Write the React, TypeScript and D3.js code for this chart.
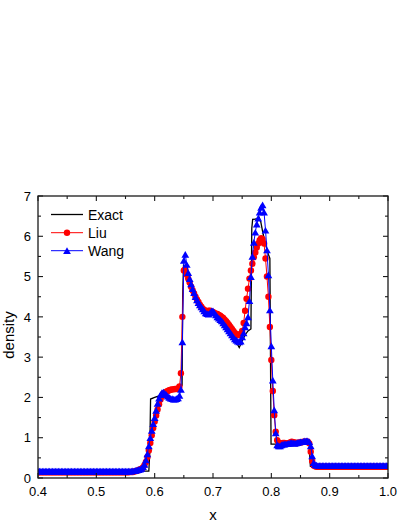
import React from "react";
import * as d3 from "d3";

const xTicks = [0.4, 0.5, 0.6, 0.7, 0.8, 0.9, 1.0];
const xTickLabels = ["0.4", "0.5", "0.6", "0.7", "0.8", "0.9", "1.0"];
const xMinor = [0.45, 0.55, 0.65, 0.75, 0.85, 0.95];
const yTicks = [0, 1, 2, 3, 4, 5, 6, 7];
const yMinor = [0.5, 1.5, 2.5, 3.5, 4.5, 5.5, 6.5];

const seriesNames = ["Exact", "Liu", "Wang"];

const exactPts: [number, number][] = [
  [0.4, 0.17], [0.59, 0.17], [0.5915, 0.6], [0.593, 1.96], [0.6, 2.0], [0.61, 2.05], [0.62, 2.1],
  [0.63, 2.15], [0.64, 2.2], [0.647, 2.3], [0.648, 4.5], [0.6495, 5.3], [0.652, 5.22], [0.66, 4.9],
  [0.67, 4.55], [0.68, 4.28], [0.69, 4.13], [0.7, 4.1], [0.71, 4.05], [0.72, 3.9], [0.73, 3.68],
  [0.738, 3.42], [0.745, 3.24], [0.75, 3.4], [0.755, 3.55], [0.76, 3.65], [0.765, 3.7],
  [0.7665, 6.2], [0.768, 6.42], [0.775, 6.43], [0.779, 6.47], [0.782, 6.35], [0.786, 6.05],
  [0.79, 5.8], [0.795, 5.55], [0.7975, 5.45], [0.799, 2.0], [0.7995, 0.84], [0.81, 0.84],
  [0.82, 0.85], [0.83, 0.86], [0.84, 0.87], [0.85, 0.87], [0.86, 0.87], [0.8655, 0.87],
  [0.866, 0.5], [0.867, 0.29], [0.88, 0.29], [0.9, 0.29], [1.0, 0.29],
];

// shared sample positions of the two numerical solutions (rows of 10)
const gridX = [
  0.4, 0.4025, 0.405, 0.4075, 0.41, 0.4125, 0.415, 0.4175, 0.42, 0.4225,
  0.425, 0.4275, 0.43, 0.4325, 0.435, 0.4375, 0.44, 0.4425, 0.445, 0.4475,
  0.45, 0.4525, 0.455, 0.4575, 0.46, 0.4625, 0.465, 0.4675, 0.47, 0.4725,
  0.475, 0.4775, 0.48, 0.4825, 0.485, 0.4875, 0.49, 0.4925, 0.495, 0.4975,
  0.5, 0.5025, 0.505, 0.5075, 0.51, 0.5125, 0.515, 0.5175, 0.52, 0.5225,
  0.525, 0.5275, 0.53, 0.5325, 0.535, 0.5375, 0.54, 0.5425, 0.545, 0.5475,
  0.55, 0.5525, 0.555, 0.5575, 0.56, 0.5625, 0.565, 0.5675, 0.57, 0.5725,
  0.575, 0.5775, 0.58, 0.5825, 0.585, 0.5875, 0.59, 0.5925, 0.595, 0.5975,
  0.6, 0.6025, 0.605, 0.6075, 0.61, 0.6125, 0.615, 0.6175, 0.62, 0.6225,
  0.625, 0.6275, 0.63, 0.6325, 0.635, 0.6375, 0.64, 0.6425, 0.645, 0.6475,
  0.65, 0.6525, 0.655, 0.6575, 0.66, 0.6625, 0.665, 0.6675, 0.67, 0.6725,
  0.675, 0.6775, 0.68, 0.6825, 0.685, 0.6875, 0.69, 0.6925, 0.695, 0.6975,
  0.7, 0.7025, 0.705, 0.7075, 0.71, 0.7125, 0.715, 0.7175, 0.72, 0.7225,
  0.725, 0.7275, 0.73, 0.7325, 0.735, 0.7375, 0.74, 0.7425, 0.745, 0.7475,
  0.75, 0.7525, 0.755, 0.7575, 0.76, 0.7625, 0.765, 0.7675, 0.77, 0.7725,
  0.775, 0.7775, 0.78, 0.7825, 0.785, 0.7875, 0.79, 0.7925, 0.795, 0.7975,
  0.8, 0.8025, 0.805, 0.8075, 0.81, 0.8125, 0.815, 0.8175, 0.82, 0.8225,
  0.825, 0.8275, 0.83, 0.8325, 0.835, 0.8375, 0.84, 0.8425, 0.845, 0.8475,
  0.85, 0.8525, 0.855, 0.8575, 0.86, 0.8625, 0.865, 0.8675, 0.87, 0.8725,
  0.875, 0.8775, 0.88, 0.8825, 0.885, 0.8875, 0.89, 0.8925, 0.895, 0.8975,
  0.9, 0.9025, 0.905, 0.9075, 0.91, 0.9125, 0.915, 0.9175, 0.92, 0.9225,
  0.925, 0.9275, 0.93, 0.9325, 0.935, 0.9375, 0.94, 0.9425, 0.945, 0.9475,
  0.95, 0.9525, 0.955, 0.9575, 0.96, 0.9625, 0.965, 0.9675, 0.97, 0.9725,
  0.975, 0.9775, 0.98, 0.9825, 0.985, 0.9875, 0.99, 0.9925, 0.995, 0.9975,
  1.0,
];

const liuY = [
  0.14, 0.14, 0.14, 0.14, 0.14, 0.14, 0.14, 0.14, 0.14, 0.14,
  0.14, 0.14, 0.14, 0.14, 0.14, 0.14, 0.14, 0.14, 0.14, 0.14,
  0.14, 0.14, 0.14, 0.14, 0.14, 0.14, 0.14, 0.14, 0.14, 0.14,
  0.14, 0.14, 0.14, 0.14, 0.14, 0.14, 0.14, 0.14, 0.14, 0.14,
  0.14, 0.14, 0.14, 0.14, 0.14, 0.14, 0.14, 0.14, 0.14, 0.14,
  0.14, 0.14, 0.14, 0.14, 0.14, 0.14, 0.14, 0.14, 0.14, 0.14,
  0.14, 0.14, 0.14, 0.15, 0.15, 0.15, 0.16, 0.17, 0.18, 0.2,
  0.21, 0.23, 0.26, 0.32, 0.4, 0.52, 0.68, 0.87, 1.06, 1.24,
  1.4, 1.55, 1.7, 1.83, 1.95, 2.03, 2.09, 2.12, 2.14, 2.16,
  2.18, 2.19, 2.2, 2.2, 2.21, 2.21, 2.22, 2.27, 2.6, 4.0,
  5.15, 5.18, 5.05, 4.95, 4.85, 4.75, 4.66, 4.58, 4.5, 4.43,
  4.37, 4.3, 4.25, 4.2, 4.17, 4.15, 4.14, 4.15, 4.15, 4.13,
  4.12, 4.1, 4.08, 4.07, 4.05, 4.03, 4.0, 3.97, 3.93, 3.89,
  3.85, 3.8, 3.75, 3.7, 3.65, 3.6, 3.57, 3.55, 3.55, 3.58,
  3.65, 3.85, 4.15, 4.45, 4.7, 4.95, 5.15, 5.32, 5.48, 5.6,
  5.72, 5.82, 5.9, 5.95, 5.93, 5.82, 5.45, 5.0, 4.5, 3.75,
  2.93, 2.16, 1.56, 1.15, 0.94, 0.88, 0.86, 0.86, 0.87, 0.87,
  0.86, 0.86, 0.87, 0.88, 0.9, 0.89, 0.88, 0.87, 0.87, 0.88,
  0.88, 0.89, 0.9, 0.9, 0.9, 0.9, 0.86, 0.65, 0.42, 0.31,
  0.29, 0.28, 0.28, 0.28, 0.28, 0.28, 0.28, 0.28, 0.28, 0.28,
  0.28, 0.28, 0.28, 0.28, 0.28, 0.28, 0.28, 0.28, 0.28, 0.28,
  0.28, 0.28, 0.28, 0.28, 0.28, 0.28, 0.28, 0.28, 0.28, 0.28,
  0.28, 0.28, 0.28, 0.28, 0.28, 0.28, 0.28, 0.28, 0.28, 0.28,
  0.28, 0.28, 0.28, 0.28, 0.28, 0.28, 0.28, 0.28, 0.28, 0.28,
  0.28,
];

const wangY = [
  0.17, 0.17, 0.17, 0.17, 0.17, 0.17, 0.17, 0.17, 0.17, 0.17,
  0.17, 0.17, 0.17, 0.17, 0.17, 0.17, 0.17, 0.17, 0.17, 0.17,
  0.17, 0.17, 0.17, 0.17, 0.17, 0.17, 0.17, 0.17, 0.17, 0.17,
  0.17, 0.17, 0.17, 0.17, 0.17, 0.17, 0.17, 0.17, 0.17, 0.17,
  0.17, 0.17, 0.17, 0.17, 0.17, 0.17, 0.17, 0.17, 0.17, 0.17,
  0.17, 0.17, 0.17, 0.17, 0.17, 0.17, 0.17, 0.17, 0.17, 0.17,
  0.17, 0.17, 0.17, 0.17, 0.17, 0.18, 0.18, 0.19, 0.2, 0.21,
  0.22, 0.24, 0.28, 0.34, 0.45, 0.6, 0.8, 1.0, 1.18, 1.35,
  1.5, 1.68, 1.85, 1.98, 2.07, 2.12, 2.13, 2.1, 2.07, 2.03,
  2.0, 1.98, 1.97, 1.96, 1.96, 1.97, 1.99, 2.05, 2.2, 3.38,
  5.4, 5.55, 5.3, 5.1, 4.95, 4.82, 4.7, 4.6, 4.5, 4.42,
  4.35, 4.3, 4.25, 4.2, 4.15, 4.1, 4.08, 4.07, 4.1, 4.15,
  4.15, 4.1, 4.05, 4.0, 3.97, 3.93, 3.9, 3.85, 3.8, 3.75,
  3.7, 3.65, 3.6, 3.55, 3.5, 3.45, 3.42, 3.4, 3.38, 3.4,
  3.5, 3.6, 3.75, 3.85, 4.0, 4.4, 5.0, 5.5, 5.85, 6.1,
  6.3, 6.45, 6.6, 6.72, 6.78, 6.6, 6.15, 5.66, 5.04, 4.17,
  3.28, 2.43, 1.69, 1.12, 0.82, 0.8, 0.8, 0.82, 0.84, 0.84,
  0.85, 0.85, 0.86, 0.87, 0.88, 0.87, 0.86, 0.87, 0.88, 0.89,
  0.9, 0.9, 0.91, 0.92, 0.92, 0.92, 0.9, 0.8, 0.55, 0.38,
  0.33, 0.32, 0.31, 0.31, 0.31, 0.31, 0.31, 0.31, 0.31, 0.31,
  0.31, 0.31, 0.31, 0.31, 0.31, 0.31, 0.31, 0.31, 0.31, 0.31,
  0.31, 0.31, 0.31, 0.31, 0.31, 0.31, 0.31, 0.31, 0.31, 0.31,
  0.31, 0.31, 0.31, 0.31, 0.31, 0.31, 0.31, 0.31, 0.31, 0.31,
  0.31, 0.31, 0.31, 0.31, 0.31, 0.31, 0.31, 0.31, 0.31, 0.31,
  0.31,
];

const W = 407;
const H = 527;
const L = 38;
const R = 388;
const T = 196;
const B = 478;
const FONT = "'Liberation Sans', Arial, sans-serif";

export default function App() {
  const x = d3.scaleLinear().domain([0.4, 1.0]).range([L, R]);
  const y = d3.scaleLinear().domain([0, 7]).range([B, T]);
  const line = d3
    .line<[number, number]>()
    .x((d) => x(d[0]))
    .y((d) => y(d[1]));
  const n = Math.min(gridX.length, liuY.length, wangY.length);
  const liuPts: [number, number][] = gridX.slice(0, n).map((gx, i) => [gx, liuY[i]]);
  const wangPts: [number, number][] = gridX.slice(0, n).map((gx, i) => [gx, wangY[i]]);
  const triSize = 26;
  const tri = d3.symbol().type(d3.symbolTriangle).size(triSize)();
  const triOff = Math.sqrt(triSize / (3 * Math.sqrt(3))) / 2; // centre bbox on point
  const major = 5;
  const minor = 3;

  return (
    <svg
      width={W}
      height={H}
      style={{ position: "absolute", left: 0, top: 0, background: "#fff" }}
      fontFamily={FONT}
    >
      <defs>
        <clipPath id="plotclip">
          <rect x={L} y={T - 6} width={R - L} height={B - T + 6} />
        </clipPath>
      </defs>

      <g clipPath="url(#plotclip)">
        <path d={line(exactPts) || ""} fill="none" stroke="#000" strokeWidth={1.3} />
        <path d={line(liuPts) || ""} fill="none" stroke="#ff0000" strokeWidth={1} />
        {liuPts.map((d, i) => (
          <circle key={"l" + i} cx={x(d[0])} cy={y(d[1])} r={3.2} fill="#ff0000" />
        ))}
        <path d={line(wangPts) || ""} fill="none" stroke="#0000ff" strokeWidth={1} />
        {wangPts.map((d, i) => (
          <path
            key={"w" + i}
            d={tri || ""}
            transform={`translate(${x(d[0])},${y(d[1]) + triOff})`}
            fill="#0000ff"
          />
        ))}
      </g>

      {/* frame */}
      <rect x={L} y={T} width={R - L} height={B - T} fill="none" stroke="#1a1a1a" strokeWidth={1.3} />

      {/* x ticks */}
      {xTicks.map((t, i) => (
        <g key={"xt" + i}>
          <line x1={x(t)} x2={x(t)} y1={B} y2={B - major} stroke="#1a1a1a" strokeWidth={1.1} />
          <line x1={x(t)} x2={x(t)} y1={T} y2={T + major} stroke="#1a1a1a" strokeWidth={1.1} />
          <text x={x(t)} y={495.5} textAnchor="middle" fontSize={13} fill="#000">
            {xTickLabels[i]}
          </text>
        </g>
      ))}
      {xMinor.map((t, i) => (
        <g key={"xm" + i}>
          <line x1={x(t)} x2={x(t)} y1={B} y2={B - minor} stroke="#1a1a1a" strokeWidth={1.1} />
          <line x1={x(t)} x2={x(t)} y1={T} y2={T + minor} stroke="#1a1a1a" strokeWidth={1.1} />
        </g>
      ))}

      {/* y ticks */}
      {yTicks.map((t, i) => (
        <g key={"yt" + i}>
          <line x1={L} x2={L + major} y1={y(t)} y2={y(t)} stroke="#1a1a1a" strokeWidth={1.1} />
          <line x1={R} x2={R - major} y1={y(t)} y2={y(t)} stroke="#1a1a1a" strokeWidth={1.1} />
          <text x={31} y={y(t) + 4.7} textAnchor="end" fontSize={13} fill="#000">
            {String(t)}
          </text>
        </g>
      ))}
      {yMinor.map((t, i) => (
        <g key={"ym" + i}>
          <line x1={L} x2={L + minor} y1={y(t)} y2={y(t)} stroke="#1a1a1a" strokeWidth={1.1} />
          <line x1={R} x2={R - minor} y1={y(t)} y2={y(t)} stroke="#1a1a1a" strokeWidth={1.1} />
        </g>
      ))}

      {/* axis labels */}
      <text x={x(0.7)} y={520} textAnchor="middle" fontSize={15} fill="#000">
        x
      </text>
      <text
        transform={`translate(14,335) rotate(-90)`}
        textAnchor="middle"
        fontSize={15}
        fill="#000"
      >
        density
      </text>

      {/* legend */}
      <g>
        <line x1={51} x2={83} y1={214.5} y2={214.5} stroke="#000" strokeWidth={1.3} />
        <text x={88} y={219.5} fontSize={14} fill="#000">{seriesNames[0]}</text>
        <line x1={51} x2={83} y1={232.7} y2={232.7} stroke="#ff0000" strokeWidth={1} />
        <circle cx={67} cy={232.7} r={3.2} fill="#ff0000" />
        <text x={88} y={237.7} fontSize={14} fill="#000">{seriesNames[1]}</text>
        <line x1={51} x2={83} y1={250.7} y2={250.7} stroke="#0000ff" strokeWidth={1} />
        <path d={tri || ""} transform={`translate(67,${250.7 + triOff})`} fill="#0000ff" />
        <text x={88} y={255.7} fontSize={14} fill="#000">{seriesNames[2]}</text>
      </g>
    </svg>
  );
}
